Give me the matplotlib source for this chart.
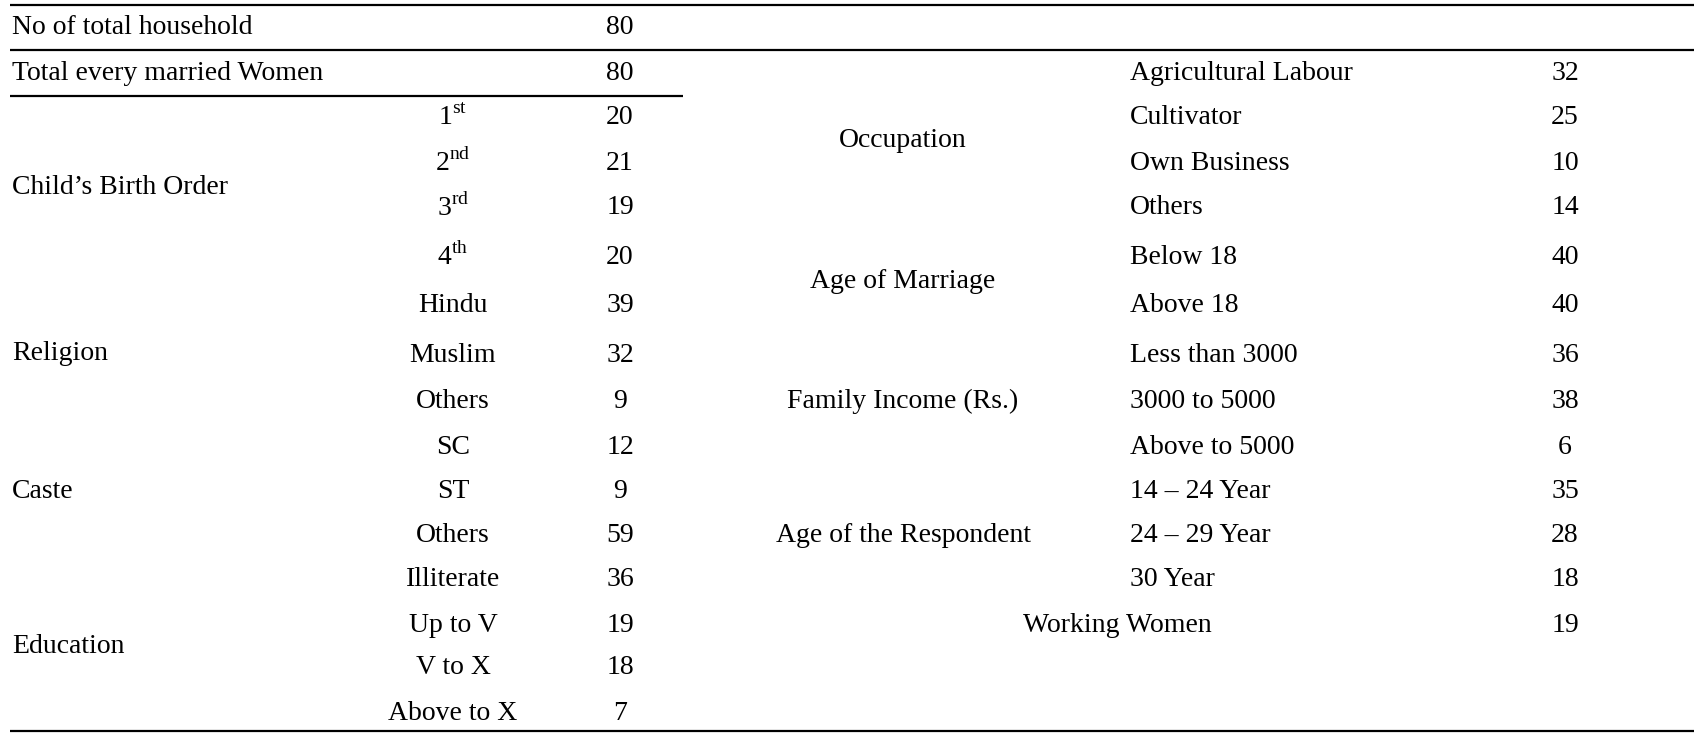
import matplotlib
matplotlib.use("Agg")
import matplotlib.pyplot as plt

plt.rcParams['font.family'] = ['Liberation Serif', 'DejaVu Serif']
plt.rcParams['mathtext.fontset'] = 'custom'
plt.rcParams['mathtext.rm'] = 'Liberation Serif'

# ---- data ----
header_labels = ["No of total household", "Total every married Women"]
header_values = [80, 80]

left_groups = ["Child\u2019s Birth Order", "Religion", "Caste", "Education"]
left_items = [
    ["1$^{\\mathrm{st}}$", "2$^{\\mathrm{nd}}$", "3$^{\\mathrm{rd}}$", "4$^{\\mathrm{th}}$"],
    ["Hindu", "Muslim", "Others"],
    ["SC", "ST", "Others"],
    ["Illiterate", "Up to V", "V to X", "Above to X"],
]
left_values = [
    [20, 21, 19, 20],
    [39, 32, 9],
    [12, 9, 59],
    [36, 19, 18, 7],
]

right_groups = ["Occupation", "Age of Marriage", "Family Income (Rs.)", "Age of the Respondent"]
right_items = [
    ["Agricultural Labour", "Cultivator", "Own Business", "Others"],
    ["Below 18", "Above 18"],
    ["Less than 3000", "3000 to 5000", "Above to 5000"],
    ["14 \u2013 24 Year", "24 \u2013 29 Year", "30 Year"],
]
right_values = [
    [32, 25, 10, 14],
    [40, 40],
    [36, 38, 6],
    [35, 28, 18],
]
working_label = "Working Women"
working_value = 19

# ---- layout ----
W, H = 1694, 738
row_y = [28, 73, 118, 163, 208, 257, 305, 355, 402, 448, 491, 535, 580, 625, 668, 713]
FS = 20

fig = plt.figure(figsize=(W / 100, H / 100), dpi=100)
ax = fig.add_axes([0, 0, 1, 1])
ax.set_xlim(0, W)
ax.set_ylim(H, 0)
ax.axis('off')

def txt(x, y, s, ha='left'):
    ax.text(x, y, s, ha=ha, va='center', fontsize=FS, color='black')

# header rows
for i, (lab, val) in enumerate(zip(header_labels, header_values)):
    txt(12, row_y[i], lab)
    txt(620, row_y[i], str(val), ha='center')

# left block
r = 2
for g, items, vals in zip(left_groups, left_items, left_values):
    ys = row_y[r:r + len(items)]
    txt(12, (ys[0] + ys[-1]) / 2, g)
    for y, it, v in zip(ys, items, vals):
        txt(453, y, it, ha='center')
        txt(620, y, str(v), ha='center')
    r += len(items)

# right block
r = 1
for g, items, vals in zip(right_groups, right_items, right_values):
    ys = row_y[r:r + len(items)]
    txt(903, (ys[0] + ys[-1]) / 2, g, ha='center')
    for y, it, v in zip(ys, items, vals):
        txt(1130, y, it)
        txt(1565, y, str(v), ha='center')
    r += len(items)
txt(1117, row_y[r], working_label, ha='center')
txt(1565, row_y[r], str(working_value), ha='center')

# rules
lw = 1.6
ax.plot([10, W], [5, 5], color='black', lw=lw, solid_capstyle='butt')
ax.plot([10, W], [50, 50], color='black', lw=lw, solid_capstyle='butt')
ax.plot([10, 683], [96, 96], color='black', lw=lw, solid_capstyle='butt')
ax.plot([10, W], [731, 731], color='black', lw=lw, solid_capstyle='butt')

fig.savefig("out.png", dpi=100)
